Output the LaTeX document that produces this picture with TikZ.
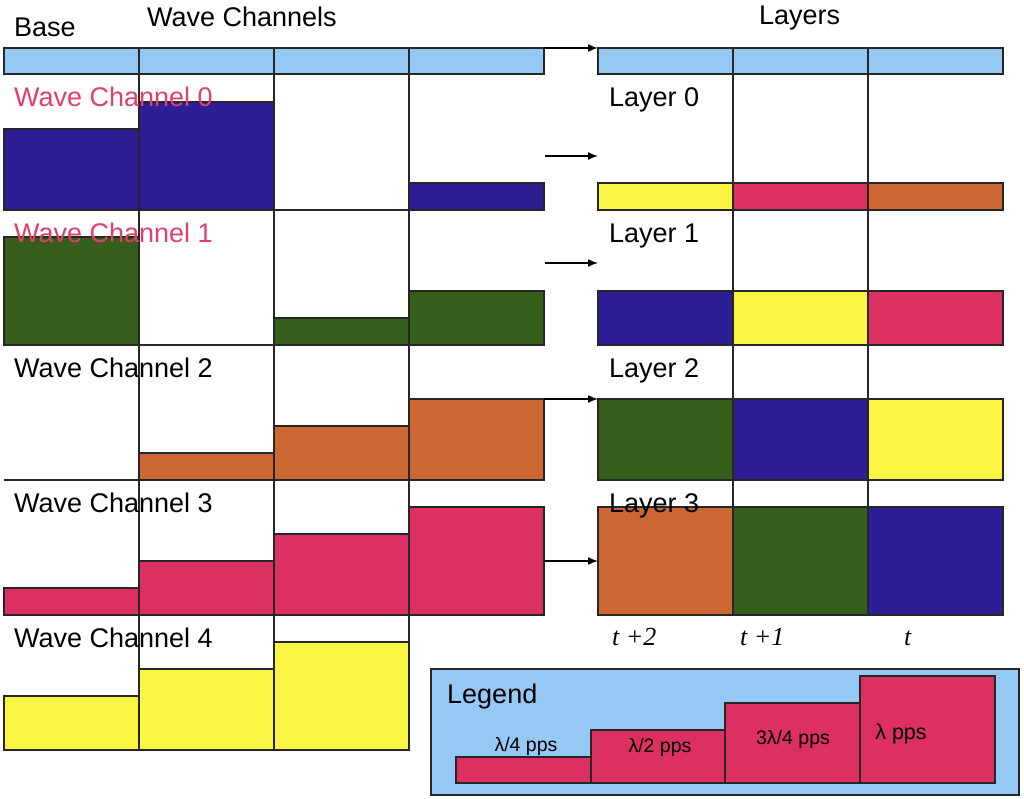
\documentclass[tikz,border=0pt]{standalone}
\usepackage{fontspec}
\setmainfont{Liberation Sans}
\newfontfamily\serifit{Liberation Serif}
\usetikzlibrary{arrows.meta}
\definecolor{lblue}{HTML}{96C8F5}
\definecolor{dblue}{HTML}{2D1E96}
\definecolor{dgreen}{HTML}{355E1A}
\definecolor{orng}{HTML}{CC6633}
\definecolor{pnk}{HTML}{DC3063}
\definecolor{yel}{HTML}{FAF542}
\definecolor{pinktext}{HTML}{E0406A}
\begin{document}
\begin{tikzpicture}[x=1pt,y=-1pt,
  cell/.style={draw=black!85, line width=1.6pt, inner sep=0pt, outer sep=0pt, minimum width=135pt, anchor=south west},
  lbl/.style={font=\fontsize{27}{30}\selectfont, anchor=base west, inner sep=0pt},
  small/.style={font=\fontsize{19.5}{22}\selectfont, inner sep=0pt},
  tlbl/.style={font=\serifit\itshape\fontsize{26}{30}\selectfont, anchor=base west, inner sep=0pt},
  arr/.style={-{Latex[length=10pt,width=8pt]}, line width=1.5pt},
  gridline/.style={line width=1.5pt, draw=black!85}]
\useasboundingbox (0,0) rectangle (1024,799);

% grid lines
\draw[gridline] (139,74) -- (139,750);
\draw[gridline] (274,74) -- (274,750);
\draw[gridline] (409,74) -- (409,750);
\draw[gridline] (4,210) -- (545,210);
\draw[gridline] (4,345) -- (545,345);
\draw[gridline] (4,480) -- (545,480);
\draw[gridline] (4,615) -- (545,615);
\draw[gridline] (4,750) -- (409,750);
\draw[gridline] (733,74) -- (733,615);
\draw[gridline] (868,74) -- (868,615);

% base bars
\node[cell, fill=lblue, minimum height=26pt] (b0) at (4,74) {};
\node[cell, fill=lblue, minimum height=26pt] (b1) at (139,74) {};
\node[cell, fill=lblue, minimum height=26pt] (b2) at (274,74) {};
\node[cell, fill=lblue, minimum height=26pt] (b3) at (409,74) {};

% wave channel 0
\node[cell, fill=dblue, minimum height=81pt] (w0c0) at (4,210) {};
\node[cell, fill=dblue, minimum height=108pt] (w0c1) at (139,210) {};
\node[cell, fill=dblue, minimum height=27pt] (w0c3) at (409,210) {};
% wave channel 1
\node[cell, fill=dgreen, minimum height=108pt] (w1c0) at (4,345) {};
\node[cell, fill=dgreen, minimum height=27pt] (w1c2) at (274,345) {};
\node[cell, fill=dgreen, minimum height=54pt] (w1c3) at (409,345) {};
% wave channel 2
\node[cell, fill=orng, minimum height=27pt] (w2c1) at (139,480) {};
\node[cell, fill=orng, minimum height=54pt] (w2c2) at (274,480) {};
\node[cell, fill=orng, minimum height=81pt] (w2c3) at (409,480) {};
% wave channel 3
\node[cell, fill=pnk, minimum height=27pt] (w3c0) at (4,615) {};
\node[cell, fill=pnk, minimum height=54pt] (w3c1) at (139,615) {};
\node[cell, fill=pnk, minimum height=81pt] (w3c2) at (274,615) {};
\node[cell, fill=pnk, minimum height=108pt] (w3c3) at (409,615) {};
% wave channel 4
\node[cell, fill=yel, minimum height=54pt] (w4c0) at (4,750) {};
\node[cell, fill=yel, minimum height=81pt] (w4c1) at (139,750) {};
\node[cell, fill=yel, minimum height=108pt] (w4c2) at (274,750) {};

% layers base
\node[cell, fill=lblue, minimum height=26pt] (lb0) at (598,74) {};
\node[cell, fill=lblue, minimum height=26pt] (lb1) at (733,74) {};
\node[cell, fill=lblue, minimum height=26pt] (lb2) at (868,74) {};
% layer 0
\node[cell, fill=yel, minimum height=27pt] (l0c0) at (598,210) {};
\node[cell, fill=pnk, minimum height=27pt] (l0c1) at (733,210) {};
\node[cell, fill=orng, minimum height=27pt] (l0c2) at (868,210) {};
% layer 1
\node[cell, fill=dblue, minimum height=54pt] (l1c0) at (598,345) {};
\node[cell, fill=yel, minimum height=54pt] (l1c1) at (733,345) {};
\node[cell, fill=pnk, minimum height=54pt] (l1c2) at (868,345) {};
% layer 2
\node[cell, fill=dgreen, minimum height=81pt] (l2c0) at (598,480) {};
\node[cell, fill=dblue, minimum height=81pt] (l2c1) at (733,480) {};
\node[cell, fill=yel, minimum height=81pt] (l2c2) at (868,480) {};
% layer 3
\node[cell, fill=orng, minimum height=108pt] (l3c0) at (598,615) {};
\node[cell, fill=dgreen, minimum height=108pt] (l3c1) at (733,615) {};
\node[cell, fill=dblue, minimum height=108pt] (l3c2) at (868,615) {};

% arrows
\coordinate (a1s) at (545,156);
\coordinate (a1e) at (598,156);
\coordinate (a2s) at (545,263);
\coordinate (a2e) at (598,263);
\draw[arr] (b3.north east) -- (lb0.north west);
\draw[arr] (a1s) -- (a1e);
\draw[arr] (a2s) -- (a2e);
\draw[arr] (w2c3.north east) -- (l2c0.north west);
\draw[arr] (w3c3.east) -- (l3c0.west);

% labels
\node[lbl] (tbase) at (14,37) {Base};
\node[lbl] (twc) at (147,27) {Wave Channels};
\node[lbl] (tlayers) at (759,25) {Layers};
\node[lbl, text=pinktext] (tw0) at (14,107) {Wave Channel 0};
\node[lbl, text=pinktext] (tw1) at (14,243) {Wave Channel 1};
\node[lbl] (tw2) at (14,377) {Wave Channel 2};
\node[lbl] (tw3) at (14,512) {Wave Channel 3};
\node[lbl] (tw4) at (14,647) {Wave Channel 4};
\node[lbl] (tl0) at (609,107) {Layer 0};
\node[lbl] (tl1) at (609,243) {Layer 1};
\node[lbl] (tl2) at (609,377) {Layer 2};
\node[lbl] (tl3) at (609,512) {Layer 3};
\node[tlbl] (tt2) at (612,645) {t +2};
\node[tlbl] (tt1) at (740,645) {t +1};
\node[tlbl] (tt0) at (904,645) {t};

% legend
\node[draw=black!85, line width=1.6pt, fill=lblue, inner sep=0pt, outer sep=0pt, minimum width=588pt, minimum height=126pt, anchor=north west] (legendbox) at (431,669) {};
\node[lbl] (tleg) at (447,703) {Legend};
\node[cell, fill=pnk, minimum height=26pt] (lg0) at (456,783) {};
\node[cell, fill=pnk, minimum height=53pt] (lg1) at (591,783) {};
\node[cell, fill=pnk, minimum height=80pt] (lg2) at (725,783) {};
\node[cell, fill=pnk, minimum height=107pt] (lg3) at (860,783) {};
\node[small] (q1) at (526,746) {λ/4 pps};
\node[small] (q2) at (660,747) {λ/2 pps};
\node[small] (q3) at (793,739) {3λ/4 pps};
\node[small, font=\fontsize{21.5}{24}\selectfont] (q4) at (901,734) {λ pps};
\end{tikzpicture}
\end{document}
